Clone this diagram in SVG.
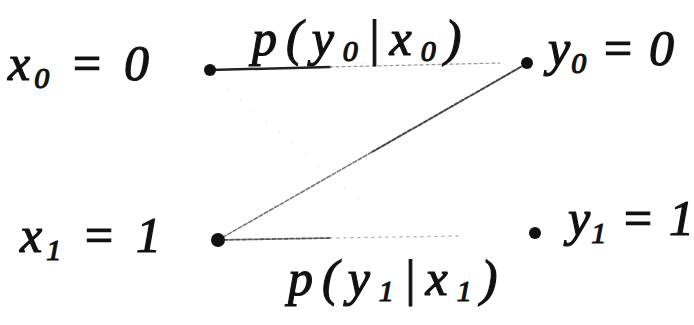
<svg xmlns="http://www.w3.org/2000/svg" width="694" height="325" viewBox="0 0 694 325">
<style>
.lbl{font-family:"Liberation Serif",serif;font-style:italic;font-size:50px;fill:#111;stroke:#111;stroke-width:1.2;letter-spacing:4px}
.sub{font-size:30px}
.dot{fill:#111}
.edge{fill:none;stroke-linecap:round}
</style>
<rect width="694" height="325" fill="#fff"/>
<g id="connectors">
<line class="edge" x1="210" y1="70" x2="330" y2="67" style="stroke:#222;stroke-width:2.5"/>
<line class="edge" x1="330" y1="67" x2="500" y2="63" style="stroke:#999;stroke-width:1.2;stroke-dasharray:3 3"/>
<line class="edge" x1="526" y1="64" x2="372" y2="152" style="stroke:#444;stroke-width:2;stroke-dasharray:4 2"/>
<line class="edge" x1="372" y1="152" x2="218" y2="240" style="stroke:#777;stroke-width:1.6;stroke-dasharray:4 2"/>
<line class="edge" x1="218" y1="240" x2="330" y2="238" style="stroke:#555;stroke-width:1.8;stroke-dasharray:4 2"/>
<line class="edge" x1="330" y1="238" x2="460" y2="236" style="stroke:#aaa;stroke-width:1.2;stroke-dasharray:2 5"/>
<line class="edge" x1="214" y1="78" x2="360" y2="200" style="stroke:#ddd;stroke-width:1;stroke-dasharray:1 16"/>
</g>
<g id="x0">
<circle class="dot" cx="210" cy="70" r="6"/>
<text class="lbl" x="8" y="80">x<tspan class="sub" dy="8">0</tspan><tspan dy="-8"> = 0</tspan></text>
</g>
<g id="x1">
<circle class="dot" cx="218" cy="240" r="7"/>
<text class="lbl" x="20" y="252">x<tspan class="sub" dy="8">1</tspan><tspan dy="-8"> = 1</tspan></text>
</g>
<g id="y0">
<circle class="dot" cx="527" cy="63" r="6"/>
<text class="lbl" x="548" y="65" style="letter-spacing:1px">y<tspan class="sub" dy="8">0</tspan><tspan dy="-8"> = 0</tspan></text>
</g>
<g id="y1">
<circle class="dot" cx="535" cy="233" r="6"/>
<text class="lbl" x="568" y="235" style="letter-spacing:1px">y<tspan class="sub" dy="8">1</tspan><tspan dy="-8"> = 1</tspan></text>
</g>
<g id="labels">
<text class="lbl" x="252" y="55" style="letter-spacing:9px">p(y<tspan class="sub" dy="6">0</tspan><tspan dy="-6">|x</tspan><tspan class="sub" dy="6">0</tspan><tspan dy="-6">)</tspan></text>
<text class="lbl" x="288" y="295" style="letter-spacing:9px">p(y<tspan class="sub" dy="6">1</tspan><tspan dy="-6">|x</tspan><tspan class="sub" dy="6">1</tspan><tspan dy="-6">)</tspan></text>
</g>
</svg>
